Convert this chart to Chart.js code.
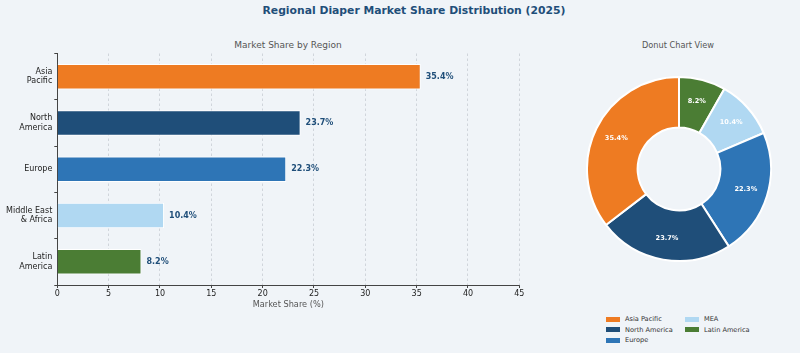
<!DOCTYPE html>
<html lang="en">
<head>
    <meta charset="UTF-8">
    <title>Regional Diaper Market Share Distribution (2025)</title>
    <style>
        body {
            margin: 0;
            background-color: #f0f4f8;
            font-family: "DejaVu Sans", sans-serif;
        }
        .wrap { position: relative; width: 800px; height: 353px; overflow: hidden; }
        .title {
            position: absolute; top: 4px; left: 214px; width: 400px;
            text-align: center; font-size: 10.8px; font-weight: bold; color: #1f4e79;
        }
        .sub {
            position: absolute; text-align: center; color: #555; line-height: 1;
        }
        #barBox { position: absolute; left: 0; top: 0; width: 560px; height: 353px; }
        #donutBox { position: absolute; left: 585.7px; top: 75.7px; width: 186px; height: 186px; }
        .leg { position: absolute; font-size: 6.6px; color: #333; line-height: 1; }
        .leg span { position: absolute; width: 14px; height: 5px; left: -19px; top: 0.5px; }
    </style>
</head>
<body>
<div class="wrap">
    <div class="title">Regional Diaper Market Share Distribution (2025)</div>
    <div class="sub" style="left:188px;width:200px;top:40.5px;font-size:9px;">Market Share by Region</div>
    <div class="sub" style="left:578px;width:200px;top:41px;font-size:8.2px;">Donut Chart View</div>
    <div id="barBox"><canvas id="barChart"></canvas></div>
    <div id="donutBox"><canvas id="donutChart"></canvas></div>
    <div id="legend"></div>
</div>

<script src="https://cdn.jsdelivr.net/npm/chart.js"></script>
<script>
    // data
    const regions = [['Asia', 'Pacific'], ['North', 'America'], 'Europe', ['Middle East', '& Africa'], ['Latin', 'America']];
    const legendNames = ['Asia Pacific', 'North America', 'Europe', 'MEA', 'Latin America'];
    const shares = [35.4, 23.7, 22.3, 10.4, 8.2];
    const colors = ['#ee7b22', '#1f4e79', '#2e75b6', '#b0d8f2', '#4b7d34'];
    const xTicks = [0, 5, 10, 15, 20, 25, 30, 35, 40, 45];

    Chart.defaults.font.family = '"DejaVu Sans", sans-serif';
    Chart.defaults.animation = false;

    // value labels at the end of each bar
    const barLabels = {
        id: 'barLabels',
        afterDatasetsDraw(chart) {
            const ctx = chart.ctx;
            ctx.save();
            ctx.font = 'bold 8px "DejaVu Sans"';
            ctx.fillStyle = '#1f4e79';
            ctx.textAlign = 'left';
            ctx.textBaseline = 'middle';
            chart.getDatasetMeta(0).data.forEach((bar, i) => {
                ctx.fillText(shares[i].toFixed(1) + '%', bar.x + 5, bar.y);
            });
            ctx.restore();
        }
    };

    new Chart(document.getElementById('barChart'), {
        type: 'bar',
        data: {
            labels: regions,
            datasets: [{
                data: shares,
                backgroundColor: colors,
                borderColor: '#ffffff',
                borderWidth: 1,
                barPercentage: 0.55,
                categoryPercentage: 1
            }]
        },
        options: {
            indexAxis: 'y',
            responsive: true,
            maintainAspectRatio: false,
            events: [],
            layout: { padding: { left: 0, right: 40.7, top: 53.5, bottom: 43 } },
            plugins: { legend: { display: false }, tooltip: { enabled: false } },
            scales: {
                x: {
                    min: 0, max: 45,
                    afterFit(s) { s.height = 25; },
                    afterBuildTicks(s) { s.ticks = xTicks.map(v => ({ value: v })); },
                    grid: { color: '#c8cdd3', lineWidth: 0.8, tickLength: 3,
                            tickColor: '#444', tickBorderDash: [], tickWidth: 1 },
                    border: { color: '#444', width: 1, dash: [2.5, 2.5] },
                    ticks: { color: '#222', font: { size: 8 }, padding: 1 },
                    title: { display: true, text: 'Market Share (%)', color: '#555',
                             font: { size: 8.2 }, padding: 0 }
                },
                y: {
                    afterFit(s) { s.width = 57.3; },
                    grid: { drawOnChartArea: false, tickLength: 3, tickColor: '#444' },
                    border: { color: '#444', width: 1 },
                    ticks: { color: '#222', font: { size: 8, lineHeight: 1.15 }, padding: 2 }
                }
            }
        },
        plugins: [barLabels]
    });

    // donut goes clockwise in Chart.js, so reverse to match
    const donutData = shares.slice().reverse();
    const donutColors = colors.slice().reverse();

    const donutLabels = {
        id: 'donutLabels',
        afterDatasetsDraw(chart) {
            const ctx = chart.ctx;
            ctx.save();
            ctx.font = 'bold 6.6px "DejaVu Sans"';
            ctx.fillStyle = '#ffffff';
            ctx.textAlign = 'center';
            ctx.textBaseline = 'middle';
            chart.getDatasetMeta(0).data.forEach((arc, i) => {
                const a = (arc.startAngle + arc.endAngle) / 2;
                const r = arc.outerRadius * 0.76;
                ctx.fillText(donutData[i].toFixed(1) + '%', arc.x + Math.cos(a) * r, arc.y + Math.sin(a) * r);
            });
            ctx.restore();
        }
    };

    new Chart(document.getElementById('donutChart'), {
        type: 'doughnut',
        data: {
            labels: legendNames.slice().reverse(),
            datasets: [{
                data: donutData,
                backgroundColor: donutColors,
                borderColor: '#ffffff',
                borderWidth: 2,
                hoverOffset: 0,
                offset: 0
            }]
        },
        options: {
            responsive: true,
            maintainAspectRatio: false,
            events: [],
            cutout: '45%',
            layout: { padding: 0 },
            plugins: { legend: { display: false }, tooltip: { enabled: false } }
        },
        plugins: [donutLabels]
    });

    // legend in two columns, filled top to bottom
    const legend = document.getElementById('legend');
    legendNames.forEach((name, i) => {
        const col = i < 3 ? 0 : 1;
        const row = i < 3 ? i : i - 3;
        const el = document.createElement('div');
        el.className = 'leg';
        el.style.left = (col === 0 ? 625 : 704) + 'px';
        el.style.top = (316 + row * 10.7) + 'px';
        el.innerHTML = '<span style="background:' + colors[i] + '"></span>' + name;
        legend.appendChild(el);
    });
</script>
</body>
</html>
